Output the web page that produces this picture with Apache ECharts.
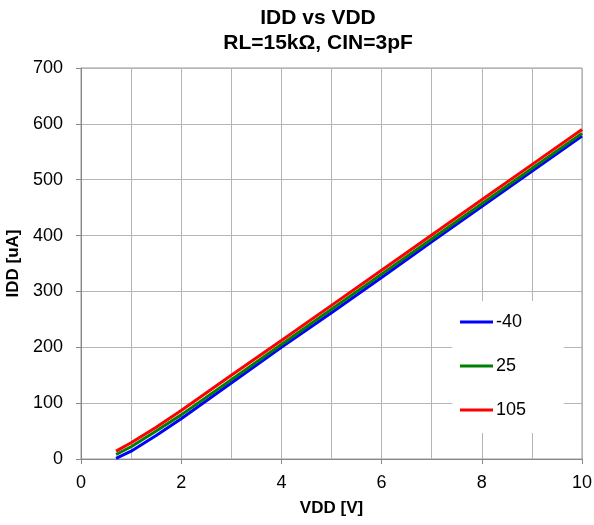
<!DOCTYPE html>
<html>
<head>
<meta charset="utf-8">
<script src="https://cdn.jsdelivr.net/npm/echarts@6/dist/echarts.min.js"></script>
<style>html,body{margin:0;padding:0;background:#fff}#c{width:594px;height:525px}</style>
</head>
<body>
<div id="c"></div>
<script>
var vdd = [0.7, 1, 1.5, 2, 3, 4, 5, 6, 7, 8, 9, 10];
var idd_m40 = [1, 14, 42, 72, 136, 200, 262, 325, 389, 452, 515, 578];
var idd_25 = [8, 22, 50, 79, 142, 205, 268, 331, 394, 457, 520, 583];
var idd_105 = [14, 29, 57, 87, 150, 212, 275, 338, 401, 464, 527, 590];
var seriesNames = ['-40', '25', '105'];
var seriesColors = ['#0000ff', '#008000', '#ff0000'];
var seriesData = [idd_m40, idd_25, idd_105];

function pairs(ys) { return vdd.map(function (x, i) { return [x, ys[i]]; }); }

var font = '"Liberation Sans", Arial, sans-serif';
var chart = echarts.init(document.getElementById('c'));
chart.setOption({
  animation: false,
  backgroundColor: '#fff',
  textStyle: { fontFamily: font, color: '#000' },
  title: {
    text: 'IDD vs VDD\nRL=15kΩ, CIN=3pF',
    left: 318, textAlign: 'center', top: 6, padding: 0,
    textStyle: { fontFamily: font, fontSize: 21, fontWeight: 'bold', color: '#000', lineHeight: 25 }
  },
  grid: { left: 81, right: 12, top: 68, bottom: 66, show: true, borderColor: '#999', borderWidth: 1, containLabel: false, outerBoundsMode: 'none' },
  legend: {
    orient: 'vertical', left: 452, top: 301,
    backgroundColor: '#fff',
    padding: [12, 38, 14, 8],
    itemGap: 26,
    itemWidth: 33, itemHeight: 3, icon: 'rect',
    textStyle: { fontFamily: font, fontSize: 18, color: '#000', lineHeight: 18, padding: [0, 0, 0, -2] },
    data: seriesNames
  },
  xAxis: {
    type: 'value', min: 0, max: 10, interval: 2,
    name: 'VDD [V]', nameLocation: 'middle', nameGap: 41,
    nameTextStyle: { fontFamily: font, fontSize: 17, fontWeight: 'bold', color: '#000' },
    axisLine: { show: true, lineStyle: { color: '#888', width: 1 } },
    axisTick: { show: true, length: 5, lineStyle: { color: '#888' } },
    axisLabel: { fontFamily: font, fontSize: 18, color: '#000', margin: 15 },
    splitLine: { show: true, lineStyle: { color: '#b5b5b5', width: 1 } },
    minorTick: { show: false, splitNumber: 2 },
    minorSplitLine: { show: true, lineStyle: { color: '#b5b5b5', width: 1 } }
  },
  yAxis: {
    type: 'value', min: 0, max: 700, interval: 100,
    name: 'IDD [uA]', nameLocation: 'middle', nameGap: 53, nameRotate: 90,
    nameTextStyle: { fontFamily: font, fontSize: 17, fontWeight: 'bold', color: '#000' },
    axisLine: { show: true, lineStyle: { color: '#888', width: 1 } },
    axisTick: { show: true, length: 5, lineStyle: { color: '#888' } },
    axisLabel: { fontFamily: font, fontSize: 18, color: '#000', margin: 18 },
    splitLine: { show: true, lineStyle: { color: '#b5b5b5', width: 1 } }
  },
  series: seriesNames.map(function (n, i) {
    return {
      name: n, type: 'line', data: pairs(seriesData[i]),
      showSymbol: false, symbol: 'none', smooth: false,
      lineStyle: { color: seriesColors[i], width: 3 },
      itemStyle: { color: seriesColors[i] }
    };
  })
});
</script>
</body>
</html>
